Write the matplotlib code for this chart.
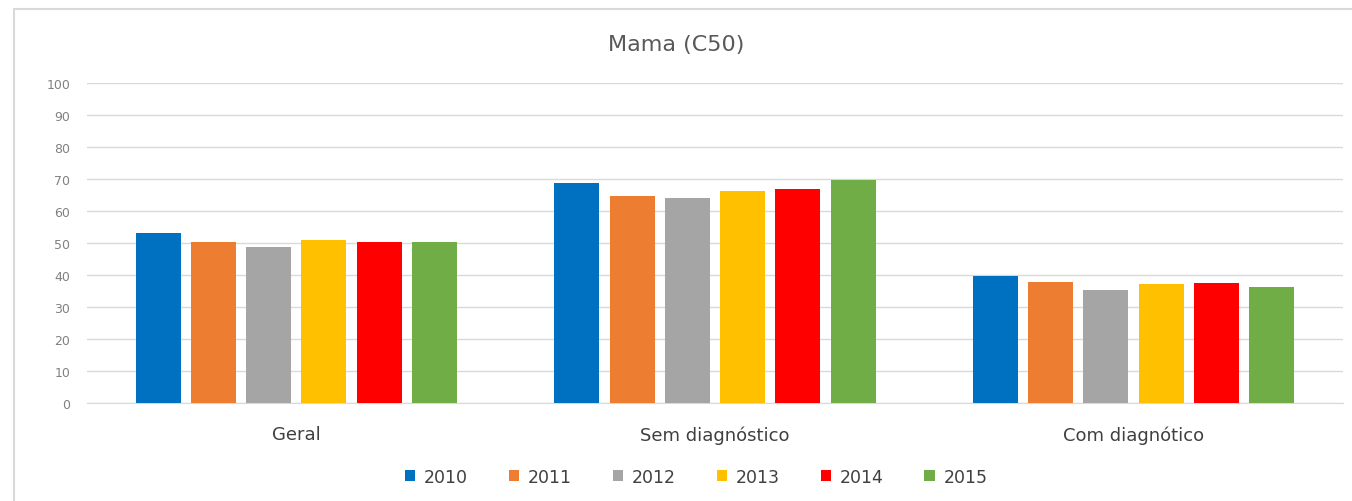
import numpy as np
import matplotlib.pyplot as plt

categories = ["Geral", "Sem diagnóstico", "Com diagnótico"]
years = ["2010", "2011", "2012", "2013", "2014", "2015"]
values = {
    "2010": [53.1, 68.6, 39.8],
    "2011": [50.4, 64.8, 37.7],
    "2012": [48.6, 64.1, 35.4],
    "2013": [50.9, 66.4, 37.2],
    "2014": [50.2, 66.9, 37.4],
    "2015": [50.2, 69.8, 36.1],
}
colors = ["#0070c0", "#ed7d31", "#a5a5a5", "#ffc000", "#ff0000", "#70ad47"]

fig = plt.figure(figsize=(13.52, 5.02), dpi=100)
ax = fig.add_axes([0.0643, 0.1952, 0.929, 0.6375])

x = np.arange(len(categories))
slot = 0.132
width = 0.1075
for i, (yr, c) in enumerate(zip(years, colors)):
    ax.bar(x + (i - 2.5) * slot, values[yr], width, color=c, label=yr, zorder=3)

ax.set_xlim(-0.5, 2.5)
ax.set_ylim(0, 100)
ax.set_yticks(range(0, 101, 10))
ax.set_xticks(x)
ax.set_xticklabels(categories, fontsize=13, color="#404040")
ax.tick_params(axis="y", labelsize=9, colors="#808080", length=0, pad=12)
ax.tick_params(axis="x", length=0, pad=16)
ax.grid(axis="y", color="#d9d9d9", linewidth=1, zorder=0)
for s in ["top", "right", "left"]:
    ax.spines[s].set_visible(False)
ax.spines["bottom"].set_color("#d9d9d9")

fig.text(0.5, 0.91, "Mama (C50)", ha="center", va="center", fontsize=16, color="#595959")
fig.legend(loc="center", bbox_to_anchor=(0.515, 0.048), ncol=6, frameon=False,
           fontsize=12.5, handlelength=0.6, handleheight=0.6, columnspacing=2.35,
           handletextpad=0.5, labelcolor="#404040")

border = plt.Rectangle((0.0104, -0.05), 1.2, 1.03, transform=fig.transFigure,
                       fill=False, edgecolor="#d9d9d9", linewidth=1.5)
fig.patches.append(border)

fig.savefig("out.png", dpi=100)
